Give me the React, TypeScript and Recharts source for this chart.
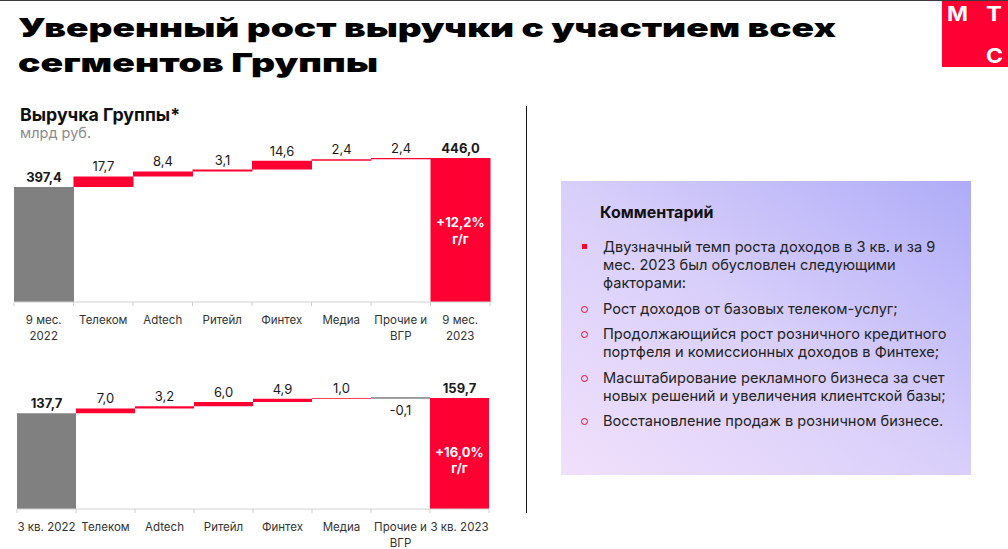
import React from "react";
import { BarChart, Bar, XAxis, YAxis, Cell, LabelList } from "recharts";

// ---------- data ----------
const topCategories = ["9 мес.|2022", "Телеком", "Adtech", "Ритейл", "Финтех", "Медиа", "Прочие и|ВГР", "9 мес.|2023"];
const topStart = 397.4;
const topDeltas = [17.7, 8.4, 3.1, 14.6, 2.4, 2.4];
const topEnd = 446.0;
const topGrowth = ["+12,2%", "г/г"];

const bottomCategories = ["3 кв. 2022", "Телеком", "Adtech", "Ритейл", "Финтех", "Медиа", "Прочие и|ВГР", "3 кв. 2023"];
const bottomStart = 137.7;
const bottomDeltas = [7.0, 3.2, 6.0, 4.9, 1.0, -0.1];
const bottomEnd = 159.7;
const bottomGrowth = ["+16,0%", "г/г"];

const commentBullets: { kind: "square" | "circle"; lines: string[] }[] = [
  { kind: "square", lines: ["Двузначный темп роста доходов в 3 кв. и за 9", "мес. 2023 был обусловлен следующими", "факторами:"] },
  { kind: "circle", lines: ["Рост доходов от базовых телеком-услуг;"] },
  { kind: "circle", lines: ["Продолжающийся рост розничного кредитного", "портфеля и комиссионных доходов в Финтехе;"] },
  { kind: "circle", lines: ["Масштабирование рекламного бизнеса за счет", "новых решений и увеличения клиентской базы;"] },
  { kind: "circle", lines: ["Восстановление продаж в розничном бизнесе."] },
];

const RED = "#ff0032";
const GRAY = "#808080";
const FONT = "Inter, 'Noto Sans', sans-serif";

const fmt = (v: number) => v.toFixed(1).replace(".", ",");

type Row = { name: string; range: [number, number]; label: string; kind: "total" | "delta"; delta: number; inner?: string[]; color: string };

function buildRows(cats: string[], start: number, deltas: number[], end: number, floor: number, growth: string[]): Row[] {
  const rows: Row[] = [];
  rows.push({ name: cats[0], range: [floor, start], label: fmt(start), kind: "total", delta: start, color: GRAY });
  let acc = start;
  deltas.forEach((d, i) => {
    const lo = Math.min(acc, acc + d);
    const hi = Math.max(acc, acc + d);
    rows.push({ name: cats[i + 1], range: [lo, hi], label: fmt(d), kind: "delta", delta: d, color: d < 0 ? GRAY : RED });
    acc += d;
  });
  rows.push({ name: cats[cats.length - 1], range: [floor, end], label: fmt(end), kind: "total", delta: end, inner: growth, color: RED });
  return rows;
}

const TOP_DOMAIN: [number, number] = [205, 476];
const BOTTOM_DOMAIN: [number, number] = [0, 200];

const topRows = buildRows(topCategories, topStart, topDeltas, topEnd, TOP_DOMAIN[0], topGrowth);
const bottomRows = buildRows(bottomCategories, bottomStart, bottomDeltas, bottomEnd, BOTTOM_DOMAIN[0], bottomGrowth);

function Waterfall({ rows, domain, width, height, margin, innerDy }: { rows: Row[]; domain: [number, number]; width: number; height: number; margin: { top: number; right: number; left: number; bottom: number }; innerDy: number[] }) {
  const band = (width - margin.left - margin.right) / rows.length;
  const Tick = (props: any) => {
    const { x, y, payload, index } = props;
    const parts = String(payload.value).split("|");
    return (
      <g>
        <line x1={x - band / 2} x2={x - band / 2} y1={y - 8} y2={y - 4} stroke="#cfcfcf" />
        {index === rows.length - 1 && <line x1={x + band / 2} x2={x + band / 2} y1={y - 8} y2={y - 4} stroke="#cfcfcf" />}
        {parts.map((p, i) => (
          <text key={i} x={x} y={y + 14 + i * 16} textAnchor="middle" fontSize={11.5} fill="#333" fontFamily={FONT}>
            {p}
          </text>
        ))}
      </g>
    );
  };
  const ValueLabel = (props: any) => {
    const { x, y, width: w, height: h, index } = props;
    const r = rows[index];
    const top = Math.min(y, y + h);
    const bottom = Math.max(y, y + h);
    const neg = r.kind === "delta" && r.delta < 0;
    return (
      <text x={x + w / 2} y={neg ? bottom + 17 : top - 5} textAnchor="middle" fontSize={13} fontWeight={r.kind === "total" ? 700 : 400} fill="#1a1a1a" fontFamily={FONT}>
        {r.label}
      </text>
    );
  };
  const InnerLabel = (props: any) => {
    const { x, y, width: w, height: h, index } = props;
    const r = rows[index];
    if (!r.inner) return null;
    const top = Math.min(y, y + h);
    return (
      <g>
        {r.inner.map((t, i) => (
          <text key={i} x={x + w / 2} y={top + innerDy[i]} textAnchor="middle" fontSize={13} fontWeight={700} fill="#fff" fontFamily={FONT}>
            {t}
          </text>
        ))}
      </g>
    );
  };
  return (
    <BarChart width={width} height={height} data={rows} margin={margin} barCategoryGap={0}>
      <XAxis dataKey="name" interval={0} axisLine={{ stroke: "#d0d0d0" }} tickLine={false} tick={<Tick />} height={40} />
      <YAxis hide domain={domain} allowDataOverflow type="number" />
      <Bar dataKey="range" isAnimationActive={false}>
        {rows.map((r, i) => (
          <Cell key={i} fill={r.color} stroke={r.kind === "delta" && r.delta < 0 ? GRAY : "none"} strokeWidth={1} />
        ))}
        <LabelList dataKey="label" content={<ValueLabel />} />
        <LabelList dataKey="label" content={<InnerLabel />} />
      </Bar>
    </BarChart>
  );
}

export default function App() {
  return (
    <div style={{ position: "absolute", left: 0, top: 0, width: 1008, height: 549, background: "#fff", overflow: "hidden", fontFamily: FONT }}>
      <div style={{ position: "absolute", left: 0, top: 0, width: 1008, height: 1, background: "#3a3a3a" }} />
      <svg width={900} height={90} style={{ position: "absolute", left: 0, top: 0 }}>
        <text x={18} y={37} fontSize={26} fontWeight={900} fill="#000" fontFamily="Inter, sans-serif" textLength={818} lengthAdjust="spacingAndGlyphs">
          Уверенный рост выручки с участием всех
        </text>
        <text x={18} y={72} fontSize={26} fontWeight={900} fill="#000" fontFamily="Inter, sans-serif" textLength={360} lengthAdjust="spacingAndGlyphs">
          сегментов Группы
        </text>
      </svg>
      {/* logo */}
      <div style={{ position: "absolute", left: 942, top: 1, width: 66, height: 66, background: RED }}>
        <svg width={66} height={66}>
          <text x={5} y={20} fontSize={20} fontWeight={700} fill="#fff" fontFamily="Inter, sans-serif" textLength={21} lengthAdjust="spacingAndGlyphs">М</text>
          <text x={44} y={20} fontSize={20} fontWeight={700} fill="#fff" fontFamily="Inter, sans-serif" textLength={16} lengthAdjust="spacingAndGlyphs">Т</text>
          <text x={44} y={62} fontSize={20} fontWeight={700} fill="#fff" fontFamily="Inter, sans-serif" textLength={17} lengthAdjust="spacingAndGlyphs">С</text>
        </svg>
      </div>
      <div style={{ position: "absolute", left: 20, top: 104, fontSize: 17.8, fontWeight: 700, color: "#111" }}>Выручка Группы*</div>
      <div style={{ position: "absolute", left: 20, top: 124, fontSize: 14.5, color: "#8c8c8c" }}>млрд руб.</div>

      <div style={{ position: "absolute", left: 0, top: 130 }}>
        <Waterfall rows={topRows} domain={TOP_DOMAIN} width={510} height={220} margin={{ top: 10, right: 20, left: 14, bottom: 8 }} innerDy={[69, 86]} />
      </div>
      <div style={{ position: "absolute", left: 0, top: 360 }}>
        <Waterfall rows={bottomRows} domain={BOTTOM_DOMAIN} width={510} height={189} margin={{ top: 10, right: 21, left: 17, bottom: 0 }} innerDy={[59, 75]} />
      </div>

      <div style={{ position: "absolute", left: 526, top: 106, width: 1, height: 407, background: "#111" }} />

      <div style={{ position: "absolute", left: 561, top: 181, width: 410, height: 294, background: "linear-gradient(to top right, #f1e0fb 0%, #d8cffa 50%, #afacf8 100%)" }}>
        <div style={{ position: "absolute", left: 39, top: 21, fontSize: 16, fontWeight: 700, color: "#111" }}>Комментарий</div>
        <div style={{ position: "absolute", left: 21, top: 57, width: 385 }}>
          {commentBullets.map((b, i) => (
            <div key={i} style={{ position: "relative", paddingLeft: 21, marginBottom: 7.5, fontSize: 14.6, lineHeight: "18px", color: "#222" }}>
              {b.kind === "square" ? (
                <div style={{ position: "absolute", left: 0, top: 6, width: 5, height: 5, background: RED }} />
              ) : (
                <div style={{ position: "absolute", left: -1, top: 6, width: 5, height: 5, border: `1.2px solid ${RED}`, borderRadius: "50%" }} />
              )}
              {b.lines.map((l, j) => (
                <div key={j} style={{ whiteSpace: "nowrap" }}>{l}</div>
              ))}
            </div>
          ))}
        </div>
      </div>
    </div>
  );
}
